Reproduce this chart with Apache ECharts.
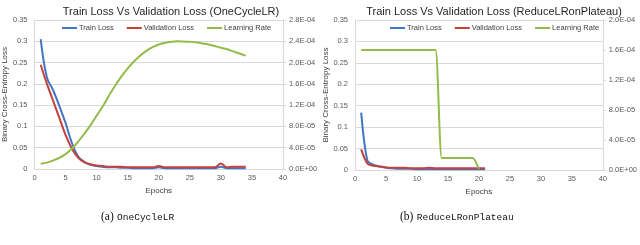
<!DOCTYPE html>
<html>
<head>
<meta charset="utf-8">
<script src="https://cdn.jsdelivr.net/npm/echarts@6/dist/echarts.min.js"></script>
<style>
html,body{margin:0;padding:0;background:#fff;}
#c{width:640px;height:245px;}
</style>
</head>
<body>
<div id="c"></div>
<script>
// ---- Data (a) OneCycleLR ----
var epochsA = [1,2,3,4,5,6,7,8,9,10,11,12,13,14,15,16,17,18,19,20,21,22,23,24,25,26,27,28,29,30,31,32,33,34];
var trainA = [0.305,0.215,0.185,0.148,0.108,0.062,0.030,0.017,0.010,0.007,0.005,0.004,0.004,0.003,0.003,0.002,0.002,0.002,0.002,0.004,0.002,0.002,0.002,0.002,0.002,0.002,0.002,0.002,0.002,0.005,0.002,0.002,0.002,0.002];
var valA = [0.245,0.200,0.160,0.120,0.080,0.048,0.027,0.016,0.011,0.008,0.007,0.005,0.005,0.005,0.004,0.004,0.004,0.004,0.004,0.007,0.004,0.004,0.004,0.004,0.004,0.004,0.004,0.004,0.004,0.013,0.004,0.005,0.005,0.005];
var lrA = [1.0e-5,1.2e-5,1.6e-5,2.1e-5,2.8e-5,3.8e-5,5.1e-5,6.6e-5,8.2e-5,1.0e-4,1.18e-4,1.38e-4,1.57e-4,1.74e-4,1.89e-4,2.02e-4,2.13e-4,2.22e-4,2.29e-4,2.34e-4,2.37e-4,2.39e-4,2.40e-4,2.395e-4,2.39e-4,2.38e-4,2.36e-4,2.34e-4,2.31e-4,2.28e-4,2.25e-4,2.21e-4,2.17e-4,2.13e-4];

// ---- Data (b) ReduceLRonPlateau ----
var epochsB = [1,2,3,4,5,6,7,8,9,10,11,12,13,14,15,16,17,18,19,20,21];
var trainB = [0.134,0.022,0.012,0.008,0.005,0.004,0.003,0.003,0.003,0.002,0.002,0.002,0.002,0.002,0.002,0.002,0.002,0.002,0.002,0.002,0.002];
var valB = [0.048,0.015,0.010,0.008,0.006,0.005,0.005,0.005,0.004,0.004,0.004,0.005,0.004,0.004,0.004,0.004,0.004,0.004,0.004,0.004,0.004];
var lrB = [1.6e-4,1.6e-4,1.6e-4,1.6e-4,1.6e-4,1.6e-4,1.6e-4,1.6e-4,1.6e-4,1.6e-4,1.6e-4,1.6e-4,1.6e-4,1.6e-5,1.6e-5,1.6e-5,1.6e-5,1.6e-5,1.6e-5,1.6e-6];

var titles = ['Train Loss Vs Validation Loss (OneCycleLR)', 'Train Loss Vs Validation Loss (ReduceLRonPlateau)'];
var seriesNames = ['Train Loss', 'Validation Loss', 'Learning Rate'];
var captionTags = ['(a)', '(b)'];
var captionNames = ['OneCycleLR', 'ReduceLRonPlateau'];

function pairs(xs, ys){ var out=[]; for (var i=0;i<ys.length;i++) out.push([xs[i], ys[i]]); return out; }
function sci(v){
  if (Math.abs(v) < 1e-12) return '0.0E+00';
  var s = v.toExponential(1).split('e');
  var e = parseInt(s[1],10);
  var a = Math.abs(e);
  return s[0] + 'E' + (e<0?'-':'+') + (a<10?'0'+a:a);
}
var FONT = 'Liberation Sans, Arial, sans-serif';
var GRAY = '#d9d9d9';
var LBL = '#595959';
var colors = ['#4275c4', '#c4413d', '#93bb4a'];

function xAx(gi){
  return {
    gridIndex: gi, type: 'value', min: 0, max: 40, interval: 5,
    name: 'Epochs', nameLocation: 'middle', nameGap: 15,
    nameTextStyle: {fontFamily: FONT, fontSize: 8, color: '#404040'},
    axisLine: {show: true, lineStyle: {color: GRAY, width: 1}},
    axisTick: {show: false},
    axisLabel: {fontFamily: FONT, fontSize: 7.5, color: LBL, margin: 5},
    splitLine: {show: false}
  };
}
function yLeft(gi){
  return {
    gridIndex: gi, type: 'value', min: 0, max: 0.35, interval: 0.05,
    name: 'Binary Cross-Entropy Loss', nameLocation: 'middle', nameGap: 20, nameRotate: 90,
    nameTextStyle: {fontFamily: FONT, fontSize: 8, color: '#404040'},
    axisLine: {show: true, lineStyle: {color: GRAY, width: 1}},
    axisTick: {show: false},
    axisLabel: {fontFamily: FONT, fontSize: 7.5, color: LBL, margin: 7,
      formatter: function(v){ return String(Math.round(v*100)/100); }},
    splitLine: {show: true, lineStyle: {color: GRAY, width: 1}}
  };
}
function yRight(gi, max){
  return {
    gridIndex: gi, type: 'value', position: 'right', min: 0, max: max, interval: 4e-5,
    axisLine: {show: true, lineStyle: {color: GRAY, width: 1}},
    axisTick: {show: true, length: 3, lineStyle: {color: GRAY}},
    axisLabel: {fontFamily: FONT, fontSize: 7.5, color: LBL, margin: 6, formatter: sci},
    splitLine: {show: false}
  };
}
function ser(name, xi, yi, data, color, smooth){
  return {
    name: name, type: 'line', xAxisIndex: xi, yAxisIndex: yi, data: data,
    symbol: 'none', smooth: smooth, lineStyle: {color: color, width: 2}, itemStyle: {color: color},
    animation: false
  };
}
function legend(left){
  return {
    left: left, top: 24, padding: 0, icon: 'rect', itemWidth: 15, itemHeight: 2, itemGap: 13,
    data: seriesNames,
    textStyle: {fontFamily: FONT, fontSize: 7.5, color: '#404040', padding: [0,0,0,-3]}
  };
}
var capRich = {
  t: {fontFamily: 'Liberation Serif, serif', fontSize: 11.5, fill: '#111'},
  m: {fontFamily: 'Liberation Mono, monospace', fontSize: 9.5, fill: '#111'}
};

var chart = echarts.init(document.getElementById('c'), null, {renderer: 'canvas'});
chart.setOption({
  animation: false,
  backgroundColor: '#fff',
  color: colors,
  title: [
    {text: titles[0], left: 166, top: 1, textAlign: 'center', textStyle: {fontFamily: FONT, fontSize: 11, fontWeight: 'normal', color: '#262626'}},
    {text: titles[1], left: 489, top: 1, textAlign: 'center', textStyle: {fontFamily: FONT, fontSize: 11, fontWeight: 'normal', color: '#262626'}}
  ],
  legend: [legend(62), legend(390)],
  grid: [
    {left: 31, top: 20, width: 252, height: 149},
    {left: 355, top: 20, width: 252, height: 150}
  ],
  xAxis: [xAx(0), xAx(1)],
  yAxis: [yLeft(0), yRight(0, 2.8e-4), yLeft(1), yRight(1, 2.0e-4)],
  series: [
    ser(seriesNames[0], 0, 0, pairs(epochsA, trainA), colors[0], 0.4),
    ser(seriesNames[1], 0, 0, pairs(epochsA, valA), colors[1], 0.4),
    ser(seriesNames[2], 0, 1, pairs(epochsA, lrA), colors[2], 0.4),
    ser(seriesNames[0], 1, 2, pairs(epochsB, trainB), colors[0], 0.3),
    ser(seriesNames[1], 1, 2, pairs(epochsB, valB), colors[1], 0.3),
    ser(seriesNames[2], 1, 3, pairs(epochsB, lrB), colors[2], 0.2)
  ],
  graphic: [
    {type: 'text', left: 101, top: 211, style: {text: '{t|' + captionTags[0] + '} {m|' + captionNames[0] + '}', rich: capRich}},
    {type: 'text', left: 400, top: 211, style: {text: '{t|' + captionTags[1] + '} {m|' + captionNames[1] + '}', rich: capRich}}
  ]
});
</script>
</body>
</html>
